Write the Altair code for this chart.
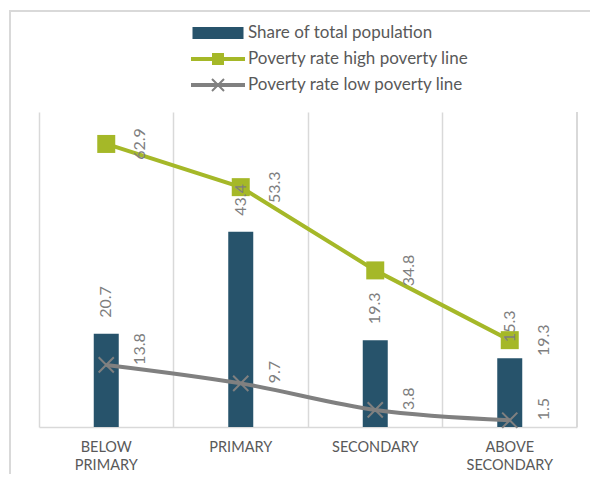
import altair as alt
import pandas as pd

categories = ["BELOW PRIMARY", "PRIMARY", "SECONDARY", "ABOVE SECONDARY"]
share_total = [20.7, 43.4, 19.3, 15.3]
rate_high = [62.9, 53.3, 34.8, 19.3]
rate_low = [13.8, 9.7, 3.8, 1.5]
series_names = ["Share of total population", "Poverty rate high poverty line", "Poverty rate low poverty line"]

BAR = "#27536B"
GREEN = "#A5B828"
GRAY = "#808080"
GRID = "#D9D9D9"
LABEL = "#7F7F7F"
AXIS_TXT = "#595959"
FONT = "Lato"

W, H = 538, 315

df_bar = pd.DataFrame({"category": categories, "value": share_total})
df_high = pd.DataFrame({"category": categories, "value": rate_high})
df_low = pd.DataFrame({"category": categories, "value": rate_low})
df_leg = pd.DataFrame({"category": categories[:3], "value": [0, 0, 0], "series": series_names})

xscale = alt.Scale(domain=categories, paddingInner=0, paddingOuter=0)
yscale = alt.Scale(domain=[0, 70])

x_axis = alt.Axis(
    title=None, ticks=False, domain=True, domainColor=GRID, domainWidth=1.5,
    grid=True, gridColor=GRID, gridWidth=1.5, bandPosition=0,
    labelAngle=0, labelFont=FONT, labelFontSize=14.5, labelColor=AXIS_TXT,
    labelPadding=13, labelLineHeight=18, labelExpr="split(datum.label, ' ')",
)

X = alt.X("category:N", sort=categories, scale=xscale, axis=x_axis)
Y = alt.Y("value:Q", scale=yscale, axis=None)

XPATH = "M-1,-1L1,1M-1,1L1,-1"
LEG_BAR = "M-2.55,-0.6H2.55V0.6H-2.55Z"
LEG_HIGH = "M-2.7,-0.2H2.7V0.2H-2.7ZM-0.6,-0.6H0.6V0.6H-0.6Z"
LEG_LOW = ("M-2.7,-0.2H2.7V0.2H-2.7Z"
           "M-0.53,-0.67L0.67,0.53L0.53,0.67L-0.67,-0.53Z"
           "M0.53,-0.67L0.67,-0.53L-0.53,0.67L-0.67,0.53Z")

frame = alt.Chart(df_bar).mark_rect(fillOpacity=0, stroke=GRID, strokeWidth=1.5).encode(
    x=alt.value(-29), x2=alt.value(W + 100), y=alt.value(-101), y2=alt.value(H + 100)
)
right_rule = alt.Chart(df_bar).mark_rule(color=GRID, strokeWidth=1.5).encode(
    x=alt.value(W), y=alt.value(0), y2=alt.value(H)
)

bars = alt.Chart(df_bar).mark_bar(color=BAR, size=25).encode(x=X, y=Y)
low_line = alt.Chart(df_low).mark_line(color=GRAY, strokeWidth=4, interpolate="monotone").encode(x=X, y=Y)
low_pts = alt.Chart(df_low).mark_point(shape=XPATH, size=230, filled=False, color=GRAY, strokeWidth=2, opacity=1).encode(x=X, y=Y)
high_line = alt.Chart(df_high).mark_line(color=GREEN, strokeWidth=4).encode(x=X, y=Y)
high_pts = alt.Chart(df_high).mark_point(shape="square", size=324, filled=True, color=GREEN, opacity=1).encode(x=X, y=Y)

txt = dict(angle=270, font=FONT, fontSize=16, color=LABEL, baseline="middle")
bar_lbl = alt.Chart(df_bar).mark_text(align="left", dx=16, **txt).encode(x=X, y=Y, text=alt.Text("value:Q", format=".1f"))
high_lbl = alt.Chart(df_high).mark_text(align="center", dy=34, **txt).encode(x=X, y=Y, text=alt.Text("value:Q", format=".1f"))
low_lbl = alt.Chart(df_low).mark_text(align="left", dy=34, **txt).encode(x=X, y=Y, text=alt.Text("value:Q", format=".1f"))

leg = alt.Legend(
    title=None, orient="none", legendX=169, legendY=-89, padding=0,
    symbolSize=400, symbolStrokeWidth=0, symbolOpacity=1,
    labelFont=FONT, labelFontSize=17, labelColor=AXIS_TXT, labelOffset=20,
    labelLimit=400, rowPadding=8, symbolOffset=0,
)
legend_layer = alt.Chart(df_leg).mark_point(filled=True, opacity=0).encode(
    x=X, y=Y,
    color=alt.Color("series:N", sort=series_names,
                    scale=alt.Scale(domain=series_names, range=[BAR, GREEN, GRAY]), legend=leg),
    shape=alt.Shape("series:N", sort=series_names,
                    scale=alt.Scale(domain=series_names, range=[LEG_BAR, LEG_HIGH, LEG_LOW]), legend=leg),
)

chart = alt.layer(
    frame, right_rule, bars, low_line, low_pts, high_line, high_pts,
    bar_lbl, high_lbl, low_lbl, legend_layer,
).properties(
    width=W, height=H,
    autosize=alt.AutoSizeParams(type="none"),
    padding={"left": 31, "top": 104, "right": 13, "bottom": 47},
).configure_view(stroke=None)

chart.save("out.html", embed_options={"renderer": "svg", "actions": False})
